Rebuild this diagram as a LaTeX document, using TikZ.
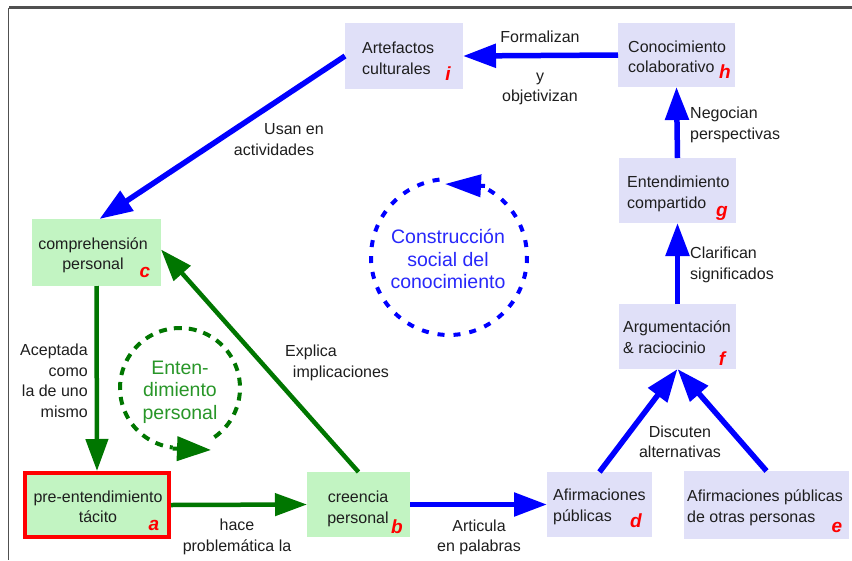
\documentclass[tikz,border=0pt]{standalone}
\usepackage{fontspec}
\setmainfont{Liberation Sans}
\usetikzlibrary{arrows.meta}
\definecolor{bfill}{RGB}{224,224,248}
\definecolor{gfill}{RGB}{194,244,194}
\definecolor{dgreen}{RGB}{0,118,0}
\definecolor{lgreen}{RGB}{40,150,40}
\definecolor{bline}{RGB}{0,0,255}
\definecolor{btext}{RGB}{40,40,250}
\definecolor{txt}{RGB}{30,30,30}
\definecolor{frm}{RGB}{80,80,80}
\begin{document}
\begin{tikzpicture}[x=1pt,y=-1pt,
  bbox/.style={fill=bfill, draw=none, inner sep=0pt, outer sep=0pt},
  gbox/.style={fill=gfill, draw=none, inner sep=0pt, outer sep=0pt},
  btxt/.style={font=\fontsize{16}{20.5}\selectfont, text=txt, inner sep=0pt},
  lett/.style={font=\fontsize{19}{19}\selectfont\bfseries\itshape, text=red, inner sep=0pt, anchor=base},
  lab/.style={font=\fontsize{16}{20.5}\selectfont, text=txt, inner sep=0pt, align=center},
  ctxt/.style={font=\fontsize{19.5}{22.5}\selectfont, inner sep=0pt, align=center},
  barr/.style={draw=bline, line width=5.5pt, -{Triangle[length=33pt,width=23pt]}},
  garr/.style={draw=dgreen, line width=4.5pt, -{Triangle[length=32pt,width=22pt]}},
  frame/.style={draw=frm},
]
\useasboundingbox (0,0) rectangle (852,560);
\fill[white] (0,0) rectangle (852,560);
% frame
\coordinate (ftr) at (852,7.5);
\coordinate (ftl) at (8.5,7.5);
\coordinate (fbl) at (8.5,560);
\draw[frame, line width=2.5pt] (ftr) -- (ftl);
\draw[frame, line width=1.5pt] (ftl) -- (fbl);

% boxes
\node[bbox, minimum width=118pt, minimum height=66pt] (i) at (404,56) {};
\node[bbox, minimum width=117pt, minimum height=64pt] (h) at (676.5,55) {};
\node[bbox, minimum width=117pt, minimum height=65pt] (g) at (677.5,190.5) {};
\node[bbox, minimum width=117pt, minimum height=65pt] (f) at (677.5,336.5) {};
\node[bbox, minimum width=105pt, minimum height=65pt] (d) at (599.5,504.5) {};
\node[bbox, minimum width=165pt, minimum height=68pt] (e) at (766.5,505) {};
\node[gbox, minimum width=129pt, minimum height=67pt] (c) at (96.5,252.5) {};
\node[gbox, draw=red, line width=4pt, outer sep=2pt, minimum width=144pt, minimum height=64pt] (a) at (97,505) {};
\node[gbox, minimum width=103pt, minimum height=65pt] (b) at (358.5,504.5) {};

% box texts
\node[btxt, align=left, anchor=west] (it) at (362,58.2) {Artefactos\\culturales};
\node[btxt, align=left, anchor=west] (ht) at (628,56.7) {Conocimiento\\colaborativo};
\node[btxt, align=left, anchor=west] (gt) at (627,193.9) {Entendimiento\\compartido};
\node[btxt, align=left, anchor=west] (ft) at (623,337.2) {Argumentación\\\&~raciocinio};
\node[btxt, align=left, anchor=west] (dt) at (553,506.9) {Afirmaciones\\públicas};
\node[btxt, align=left, anchor=west] (et) at (687,508) {Afirmaciones públicas\\de otras personas};
\node[btxt, align=center] (ct) at (93,255.5) {comprehensión\\personal};
\node[btxt, align=center] (at) at (98,506.7) {pre-entendimiento\\tácito};
\node[btxt, align=center] (bt) at (358,509) {creencia\\personal};

% letters
\node[lett] (il) at (448,80) {i};
\node[lett] (hl) at (725,78) {h};
\node[lett] (gl) at (722,216) {g};
\node[lett] (fl) at (722,365) {f};
\node[lett] (dl) at (636,527) {d};
\node[lett] (el) at (837,532) {e};
\node[lett] (cl) at (145,277) {c};
\node[lett] (al) at (154,530) {a};
\node[lett] (bl) at (397,533) {b};

% connectors
\draw[barr] (h.west) -- (i.east);
\draw[barr] (i.west) -- ([xshift=3pt]c.north);
\draw[barr] (g.north) -- (h.south);
\draw[barr] (f.north) -- (g.south);
\draw[barr] (d.north) -- (f.south);
\draw[barr] (e.north) -- (f.south);
\draw[barr] (b.east) -- (d.west);
\draw[garr] (a.east) -- (b.west);
\draw[garr] (c.south) -- (a.north);
\draw[garr] (b.north) -- ([yshift=3pt]c.east);

% labels
\node[lab] (l1) at (540,37.2) {Formalizan};
\node[lab] (l2) at (540,89) {y\\objetivizan};
\node[lab] (l3) at (294,129.3) {Usan en};
\node[lab] (l4) at (274,150.2) {actividades};
\node[lab, align=left, anchor=west] (l5) at (690,125) {Negocian\\perspectivas};
\node[lab, align=left, anchor=west] (l6) at (690,264.9) {Clarifican\\significados};
\node[lab] (l7) at (680,441.8) {Discuten\\alternativas};
\node[lab] (l8) at (479,537.5) {Articula\\en palabras};
\node[lab] (l9) at (237,537) {hace\\problemática la};
\node[lab, align=right, anchor=east] (l10) at (88,380.8) {Aceptada\\como\\la de uno\\mismo};
\node[lab] (l11) at (311,352) {Explica};
\node[lab] (l12) at (341,372.9) {implicaciones};

% green cycle
\draw[dgreen, line width=4pt, dash pattern=on 8pt off 7pt]
  plot[domain=-55:263, samples=90] ({180+60*cos(-\x)},{388+60*sin(-\x)});
\coordinate (ga) at (172.7,448.5);
\coordinate (gb) at (211,450);
\draw[dgreen, line width=4pt, -{Triangle[length=34pt,width=24pt]}] (ga) -- (gb);
\node[ctxt, text=lgreen] (gc) at (180,392) {Enten-\\dimiento\\personal};

% blue cycle
\draw[bline, line width=4pt, dash pattern=on 7pt off 9pt]
  plot[domain=97:424, samples=110] ({449+78*cos(-\x)},{257+78*sin(-\x)});
\coordinate (ba) at (485,186);
\coordinate (bb) at (445,184);
\draw[bline, line width=4pt, -{Triangle[length=36pt,width=22pt]}] (ba) -- (bb);
\node[ctxt, text=btext] (bc) at (448,259) {Construcción\\social del\\conocimiento};
\end{tikzpicture}
\end{document}
